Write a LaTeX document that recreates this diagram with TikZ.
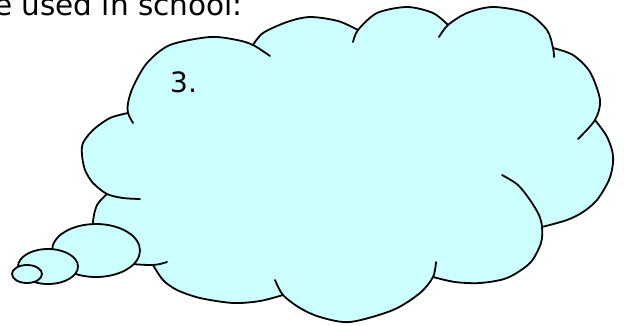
\documentclass[tikz,border=0pt]{standalone}
\usepackage{fontspec}
\setmainfont{DejaVu Sans}
\definecolor{cloudcyan}{HTML}{CCFFFF}
\begin{document}
\begin{tikzpicture}[x=1pt,y=-1pt,
  edge/.style={line width=1.8pt,line cap=round,line join=round},
  puff/.style={edge,fill=cloudcyan},
  label/.style={font=\fontsize{28}{30}\selectfont,inner sep=0pt},
  headlabel/.style={font=\fontsize{29.5}{31}\selectfont,inner sep=0pt}]
\useasboundingbox (0,0) rectangle (624,325);
% cloud body fill
\fill[cloudcyan]
  plot[smooth] coordinates {(128,113) (128,103) (133,87) (147,63) (170,45) (210,37) (237,40) (253,45)}
  -- plot[smooth] coordinates {(253,45) (263,33) (287,22) (310,17) (338,21) (358,30)}
  -- plot[smooth] coordinates {(358,30) (377,13) (407,7) (433,13) (448,25)}
  -- plot[smooth] coordinates {(448,25) (467,13) (493,7) (527,13) (547,30) (553,48)}
  -- plot[smooth] coordinates {(553,48) (573,55) (590,72) (600,100) (595,120)}
  -- plot[smooth] coordinates {(595,120) (606,135) (612,150) (613,163) (609,180) (597,200) (583,212) (567,220) (542,227)}
  -- plot[smooth] coordinates {(542,227) (541,243) (530,263) (507,278) (480,283) (455,282) (433,277)}
  -- plot[smooth] coordinates {(433,277) (420,293) (393,310) (350,322) (320,317) (300,308) (283,295)}
  -- plot[smooth] coordinates {(283,295) (260,301) (233,303) (200,298) (177,290) (163,280) (153,265)}
  -- plot[smooth] coordinates {(153,265) (125,263) (105,255) (95,240) (93,222) (97,205) (107,194)}
  -- plot[smooth] coordinates {(107,194) (93,183) (85,170) (82,155) (83,143) (93,130) (110,118) (128,113)}
  -- cycle;
% cloud outline arcs with their inner ends
\draw[edge] plot[smooth] coordinates {(128,113) (110,118) (93,130) (83,143) (82,155) (85,170) (93,183) (107,194) (123,198) (140,199)};
\draw[edge] plot[smooth] coordinates {(133,123) (128,113) (128,103) (133,87) (147,63) (170,45) (210,37) (237,40) (253,45) (270,56)};
\draw[edge] plot[smooth] coordinates {(253,45) (263,33) (287,22) (310,17) (338,21) (358,30)};
\draw[edge] plot[smooth] coordinates {(353,42) (358,30) (377,13) (407,7) (433,13) (448,25)};
\draw[edge] plot[smooth] coordinates {(439,37) (448,25) (467,13) (493,7) (527,13) (547,30) (553,48) (554,57)};
\draw[edge] plot[smooth] coordinates {(553,48) (573,55) (590,72) (600,100) (595,120) (578,139)};
\draw[edge] plot[smooth] coordinates {(595,120) (606,135) (612,150) (613,163) (609,180) (597,200) (583,212) (567,220) (542,227)};
\draw[edge] plot[smooth] coordinates {(502,175) (518,185) (530,200) (539,215) (542,227) (541,243) (530,263) (507,278) (480,283) (455,282) (433,277)};
\draw[edge] plot[smooth] coordinates {(275,280) (283,295) (300,308) (320,317) (350,322) (393,310) (420,293) (433,277) (436,262)};
\draw[edge] plot[smooth] coordinates {(283,295) (260,301) (233,303) (200,298) (177,290) (163,280) (153,265)};
\draw[edge] plot[smooth] coordinates {(107,194) (97,205) (93,222) (95,240) (105,255) (125,263) (153,265) (167,262)};
% thought bubbles
\draw[puff] (96,250.5) ellipse [x radius=44, y radius=26.5];
\draw[puff] (48,266.5) ellipse [x radius=30, y radius=17.5];
\draw[puff] (27,274) ellipse [x radius=15, y radius=9];
% texts
\node[headlabel,anchor=base east] (head) at (243,15) {re used in school:};
\node[label,anchor=base west] (num) at (170,92) {3.};
\end{tikzpicture}
\end{document}
